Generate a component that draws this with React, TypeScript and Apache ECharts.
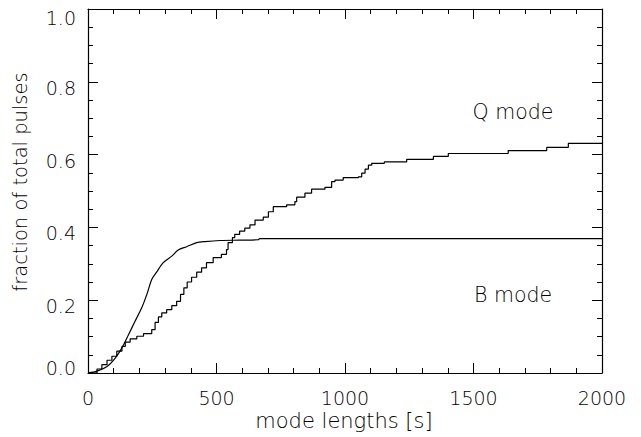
import React, { useEffect, useRef } from "react";
import * as echarts from "echarts";

// Q mode cumulative fraction (step curve): [mode length (s), fraction]
const qModeX = [0, 35, 54, 74, 93, 112, 132, 145, 164, 190, 216, 248, 261, 274, 287, 306, 326, 345, 360, 373, 386, 403, 423, 442, 461, 487, 519, 539, 545, 562, 571, 590, 610, 630, 650, 682, 702, 721, 773, 805, 812, 844, 870, 922, 948, 961, 993, 1052, 1065, 1078, 1091, 1104, 1153, 1240, 1344, 1402, 1635, 1785, 1869, 2000];
const qModeY = [0, 0.011, 0.023, 0.035, 0.046, 0.06, 0.073, 0.085, 0.094, 0.101, 0.108, 0.119, 0.139, 0.154, 0.165, 0.174, 0.185, 0.197, 0.216, 0.234, 0.25, 0.263, 0.277, 0.289, 0.303, 0.317, 0.326, 0.339, 0.358, 0.372, 0.381, 0.39, 0.398, 0.407, 0.42, 0.428, 0.443, 0.457, 0.462, 0.471, 0.483, 0.494, 0.505, 0.51, 0.526, 0.53, 0.537, 0.539, 0.549, 0.56, 0.571, 0.576, 0.58, 0.587, 0.595, 0.603, 0.611, 0.62, 0.631, 0.631];

// B mode cumulative fraction (smooth curve)
const bModeX = [0, 35, 74, 106, 132, 158, 183, 209, 229, 248, 267, 293, 326, 351, 384, 423, 455, 513, 590, 662, 668, 2000];
const bModeY = [0, 0.005, 0.018, 0.041, 0.069, 0.106, 0.142, 0.179, 0.216, 0.257, 0.277, 0.303, 0.321, 0.338, 0.347, 0.358, 0.361, 0.364, 0.365, 0.366, 0.369, 0.369];

const xTicks = { min: 0, max: 2000, interval: 500 };
const yTicks = { min: 0, max: 1, interval: 0.2 };

const xTitle = "mode lengths [s]";
const yTitle = "fraction of total pulses";
const qLabel = "Q mode";
const bLabel = "B mode";

const FONT = "DejaVu Sans";
const TXT = "#000";

export default function App() {
  const ref = useRef<HTMLDivElement>(null);
  useEffect(() => {
    if (!ref.current) return;
    const chart = echarts.init(ref.current, undefined, { renderer: "svg" });
    const lineAxis = { show: true, onZero: false, lineStyle: { color: "#000", width: 1.2 } };
    const tick = { show: true, inside: true, length: 10, lineStyle: { color: "#000", width: 1 } };
    const minor = (n: number) => ({ show: true, splitNumber: n, length: 5, lineStyle: { color: "#000", width: 1 } });
    const label = { fontFamily: FONT, fontWeight: 200, fontSize: 19, color: TXT };
    const textStyle = (size: number) => ({ fontFamily: FONT, fontWeight: 200, fontSize: size, fill: TXT });
    const rt = { fontFamily: FONT, fontWeight: 200, fontSize: 19, color: TXT };
    chart.setOption({
      animation: false,
      backgroundColor: "#fff",
      grid: { left: 88, right: 39, top: 9, bottom: 64 },
      xAxis: [
        {
          type: "value", position: "bottom", ...xTicks,
          axisLine: lineAxis, axisTick: tick, minorTick: minor(5),
          splitLine: { show: false },
          axisLabel: { ...label, margin: 15, formatter: (v: number) => String(v) },
        },
        {
          type: "value", position: "top", ...xTicks,
          axisLine: lineAxis, axisTick: tick, minorTick: minor(5),
          splitLine: { show: false }, axisLabel: { show: false },
        },
      ],
      yAxis: [
        {
          type: "value", position: "left", ...yTicks,
          axisLine: lineAxis, axisTick: tick, minorTick: minor(4),
          splitLine: { show: false },
          axisLabel: {
            ...label, margin: 12,
            formatter: (v: number) => {
              const s = v.toFixed(1);
              if (v === 0) return `{lo|${s}}`;
              if (v === 1) return `{hi|${s}}`;
              return `{mid|${s}}`;
            },
            rich: {
              lo: { ...rt, padding: [0, 0, 10, 0] },
              hi: { ...rt, padding: [17, 0, 0, 0] },
              mid: { ...rt, padding: [12, 0, 0, 0] },
            },
          },
        },
        {
          type: "value", position: "right", ...yTicks,
          axisLine: lineAxis, axisTick: tick, minorTick: minor(4),
          splitLine: { show: false }, axisLabel: { show: false },
        },
      ],
      series: [
        {
          name: qLabel, type: "line", step: "end", showSymbol: false,
          xAxisIndex: 0, yAxisIndex: 0,
          lineStyle: { color: "#000", width: 1.2 },
          data: qModeX.map((x, i) => [x, qModeY[i]]),
        },
        {
          name: bLabel, type: "line", smooth: 0.3, showSymbol: false,
          xAxisIndex: 0, yAxisIndex: 0,
          lineStyle: { color: "#000", width: 1.2 },
          data: bModeX.map((x, i) => [x, bModeY[i]]),
        },
      ],
      graphic: [
        { type: "text", x: 344, y: 421, style: { ...textStyle(21), text: xTitle, align: "center", verticalAlign: "middle" } },
        { type: "text", x: 20, y: 182, rotation: Math.PI / 2, style: { ...textStyle(19.5), text: yTitle, align: "center", verticalAlign: "middle" } },
        { type: "text", x: 513, y: 112, style: { ...textStyle(20.5), text: qLabel, align: "center", verticalAlign: "middle" } },
        { type: "text", x: 513, y: 295, style: { ...textStyle(20.5), text: bLabel, align: "center", verticalAlign: "middle" } },
      ],
    });
    return () => chart.dispose();
  }, []);
  return <div ref={ref} style={{ position: "fixed", left: 0, top: 0, width: 641, height: 437 }} />;
}
